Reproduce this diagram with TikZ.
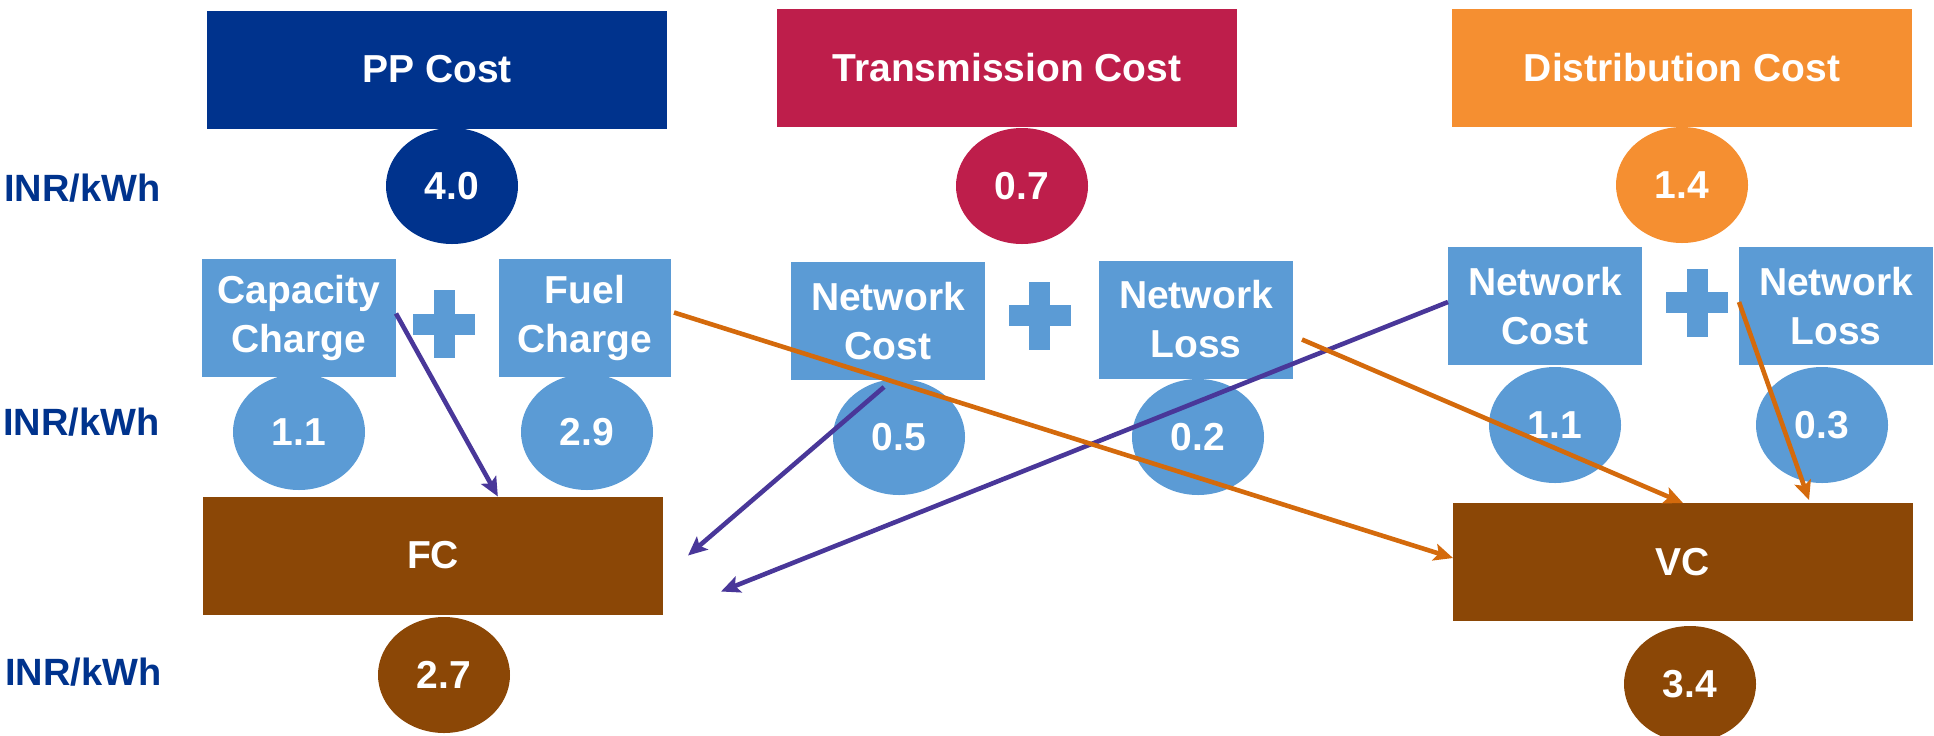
\documentclass[tikz,border=0pt]{standalone}
\usepackage{fontspec}
\setmainfont{Liberation Sans}
\usetikzlibrary{shapes.geometric,arrows.meta,calc}
\definecolor{ppblue}{RGB}{0,51,141}
\definecolor{trred}{RGB}{190,30,75}
\definecolor{diorange}{RGB}{245,143,49}
\definecolor{lblue}{RGB}{91,155,213}
\definecolor{fcbrown}{RGB}{139,71,6}
\definecolor{arpurple}{RGB}{73,55,153}
\definecolor{arorange}{RGB}{212,106,12}
\begin{document}
\begin{tikzpicture}[x=0.5pt,y=-0.5pt,
  txt/.style={text=white,font=\fontsize{19.5}{24.5}\selectfont\bfseries,align=center},
  box/.style={txt,rectangle,inner sep=0pt,outer sep=0pt,minimum height=59pt},
  val/.style={txt,ellipse,inner sep=0pt,outer sep=0pt,minimum width=66pt,minimum height=58pt},
  unit/.style={text=ppblue,font=\fontsize{19}{24}\selectfont\bfseries,anchor=base west,inner sep=0pt},
  tipstyle/.style={-{Stealth[length=9.5pt,width=8.5pt,inset=2pt]}},
  pur/.style={draw=arpurple,line width=2.3pt,tipstyle},
  ora/.style={draw=arorange,line width=2.3pt,tipstyle}
]
\useasboundingbox (0,0) rectangle (1934,735);

% unit labels
\node[unit] (u1) at (4,201) {INR/kWh};
\node[unit] (u2) at (3,435) {INR/kWh};
\node[unit] (u3) at (5,685) {INR/kWh};

% top boxes
\node[box,fill=ppblue,minimum width=230pt] (pp) at (437,69.5) {PP Cost};
\node[box,fill=trred,minimum width=230pt] (tr) at (1007,68) {Transmission Cost};
\node[box,fill=diorange,minimum width=230pt] (di) at (1682,68) {Distribution Cost};
\node[val,fill=ppblue] (v40) at (452,186) {4.0};
\node[val,fill=trred] (v07) at (1022,186) {0.7};
\node[val,fill=diorange] (v14) at (1682,185) {1.4};

% component boxes
\node[box,fill=lblue,minimum width=97pt] (cap) at (299,317.5) {Capacity\\Charge};
\node[box,fill=lblue,minimum width=86pt] (fuel) at (585,317.5) {Fuel\\Charge};
\node[box,fill=lblue,minimum width=97pt] (ntc) at (888,321) {Network\\Cost};
\node[box,fill=lblue,minimum width=97pt] (ntl) at (1196,319.5) {Network\\Loss};
\node[box,fill=lblue,minimum width=97pt] (ndc) at (1545,306) {Network\\Cost};
\node[box,fill=lblue,minimum width=97pt] (ndl) at (1836,306) {Network\\Loss};

% plus signs
\foreach \n/\x/\y in {p1/444/324, p2/1039.5/315.5, p3/1697/302.5} {
  \coordinate (\n) at (\x,\y);
  \fill[lblue] ($(\n)+(-10.5,-34)$) rectangle ($(\n)+(10.5,34)$);
  \fill[lblue] ($(\n)+(-31,-10.5)$) rectangle ($(\n)+(31,10.5)$);
}

% component values
\node[val,fill=lblue] (v11) at (299,432) {1.1};
\node[val,fill=lblue] (v29) at (587,432) {2.9};
\node[val,fill=lblue] (v05) at (899,437) {0.5};
\node[val,fill=lblue] (v02) at (1198,437) {0.2};
\node[val,fill=lblue] (v11d) at (1555,425) {1.1};
\node[val,fill=lblue] (v03) at (1822,425) {0.3};

% result boxes
\node[box,fill=fcbrown,minimum width=230pt] (fc) at (433,555.5) {FC};
\node[box,fill=fcbrown,minimum width=230pt] (vc) at (1683,562) {VC};
\node[val,fill=fcbrown] (v27) at (444,675) {2.7};
\node[val,fill=fcbrown] (v34) at (1690,684) {3.4};

% connectors
\draw[pur] ($(cap.east)+(0,-4)$) -- ($(fc.north west)!0.641!(fc.north east)$);
\draw[pur] ($(ntc.south)+(-4,7)$) -- ($(fc.east)+(25,0)$);
\draw[pur] ($(ndc.west)+(0,-4)$) -- ($(fc.east)+(58,36)$);
\draw[ora] ($(fuel.east)+(3,-5)$) -- ($(vc.west)+(0,-4)$);
\draw[ora] ($(ntl.east)+(9,20)$) -- (vc.north);
\draw[ora] ($(ndl.west)+(0,-4)$) -- ($(vc.north west)!0.774!(vc.north east)+(0,-3)$);
\end{tikzpicture}
\end{document}
